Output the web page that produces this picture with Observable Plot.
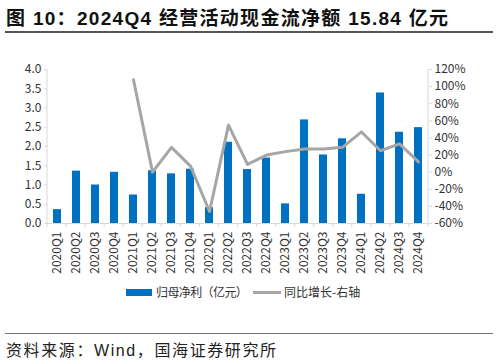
<!DOCTYPE html>
<html>
<head>
<meta charset="utf-8">
<script src="https://cdn.jsdelivr.net/npm/d3@7"></script>
<script src="https://cdn.jsdelivr.net/npm/@observablehq/plot@0.6"></script>
<style>
  html, body { margin: 0; padding: 0; background: #fff; }
  body { width: 498px; height: 362px; position: relative; overflow: hidden; font-family: "Noto Sans CJK SC", "Noto Sans", sans-serif; }
  #title { position: absolute; left: 6px; top: 3px; font-family: "Liberation Sans", Arial, "Noto Sans CJK SC", sans-serif; font-size: 19px; font-weight: bold; color: #111; white-space: nowrap; letter-spacing: 1.3px; }
  #tline { position: absolute; left: 5px; width: 488px; top: 31px; height: 2px; background: #555; }
  #chart { position: absolute; left: 0; top: 40px; }
  #legend { position: absolute; top: 283px; left: 0; width: 498px; font-size: 12px; color: #333; white-space: nowrap; }
  #legend .sw1 { position: absolute; left: 126px; top: 6px; width: 26px; height: 7px; background: #0070C0; }
  #legend .t1 { position: absolute; left: 156px; top: 0px; letter-spacing: -0.6px; }
  #legend .sw2 { position: absolute; left: 253px; top: 8px; width: 28px; height: 3px; background: #A6A6A6; }
  #legend .t2 { position: absolute; left: 284px; top: 0px; }
  #fline { position: absolute; left: 5px; width: 488px; top: 333px; height: 1px; background: #777; }
  #source { position: absolute; left: 6px; top: 337px; font-family: "Liberation Sans", Arial, "Noto Sans CJK SC", sans-serif; font-size: 16px; color: #222; white-space: nowrap; letter-spacing: 1.6px; }
</style>
</head>
<body>
<div id="title">图 10：2024Q4 经营活动现金流净额 15.84 亿元</div>
<div id="tline"></div>
<div id="chart"></div>
<div id="legend"><span class="sw1"></span><span class="t1">归母净利（亿元）</span><span class="sw2"></span><span class="t2">同比增长-右轴</span></div>
<div id="fline"></div>
<div id="source">资料来源：Wind，国海证券研究所</div>
<script>
const quarters = ["2020Q1","2020Q2","2020Q3","2020Q4","2021Q1","2021Q2","2021Q3","2021Q4","2022Q1","2022Q2","2022Q3","2022Q4","2023Q1","2023Q2","2023Q3","2023Q4","2024Q1","2024Q2","2024Q3","2024Q4"];
const profit = [0.36,1.36,1.00,1.33,0.74,1.37,1.29,1.41,0.41,2.11,1.40,1.70,0.51,2.69,1.78,2.20,0.76,3.39,2.37,2.49];
const growth = [null,null,null,null,108,0,29,7,-46,55,9,20,24,27,27,29,47,25,33,12];
const leftTicks = [0,0.5,1,1.5,2,2.5,3,3.5,4];
const rightTicks = [-60,-40,-20,0,20,40,60,80,100,120];

const pctToLeft = p => (p + 60) / 45;
const leftToPct = v => Math.round(v * 45 - 60);

const bars = quarters.map((q, i) => ({q, v: profit[i]}));
const lineData = quarters.map((q, i) => ({q, p: growth[i]})).filter(d => d.p != null);

const axisColor = "#D9D9D9";
const font = '"Noto Sans CJK SC", "Noto Sans", sans-serif';

const frameLines = (index, scales, values, dim) => {
  const g = d3.create("svg:g");
  const x0 = dim.marginLeft, x1 = dim.width - dim.marginRight;
  const y0 = dim.marginTop, y1 = dim.height - dim.marginBottom;
  g.append("line").attr("x1", x0).attr("x2", x0).attr("y1", y0).attr("y2", y1).attr("stroke", axisColor);
  g.append("line").attr("x1", x1).attr("x2", x1).attr("y1", y0).attr("y2", y1).attr("stroke", axisColor);
  g.append("line").attr("x1", x0).attr("x2", x1).attr("y1", y1 + 0.5).attr("y2", y1 + 0.5).attr("stroke", axisColor);
  for (let i = 0; i <= quarters.length; i++) {
    const xx = x0 + i * (x1 - x0) / quarters.length;
    g.append("line").attr("x1", xx).attr("x2", xx).attr("y1", y1).attr("y2", y1 + 4).attr("stroke", axisColor);
  }
  return g.node();
};

const chart = Plot.plot({
  width: 498,
  height: 250,
  marginLeft: 47,
  marginRight: 70,
  marginTop: 29,
  marginBottom: 67,
  style: {fontFamily: font, fontSize: "12px", color: "#333", background: "transparent"},
  x: {domain: quarters, paddingInner: 0.58, paddingOuter: 0.29, label: null},
  y: {domain: [0, 4], label: null},
  marks: [
    Plot.barY(bars, {x: "q", y: "v", fill: "#0070C0"}),
    Plot.line(lineData, {x: "q", y: d => pctToLeft(d.p), stroke: "#A6A6A6", strokeWidth: 3}),
    frameLines,
    Plot.axisY({anchor: "left", ticks: leftTicks, tickFormat: d3.format(".1f"), tickSize: 3, tickPadding: 3, stroke: axisColor, fill: "#333", label: null, fontSize: 12}),
    Plot.axisY({anchor: "right", ticks: rightTicks.map(pctToLeft), tickFormat: d => leftToPct(d) + "%", tickSize: 3, tickPadding: 3, stroke: axisColor, fill: "#333", label: null, fontSize: 12}),
    Plot.axisX({anchor: "bottom", tickRotate: -90, tickSize: 0, tickPadding: 8, fill: "#333", label: null, fontSize: 12})
  ]
});
document.getElementById("chart").appendChild(chart);
</script>
</body>
</html>
